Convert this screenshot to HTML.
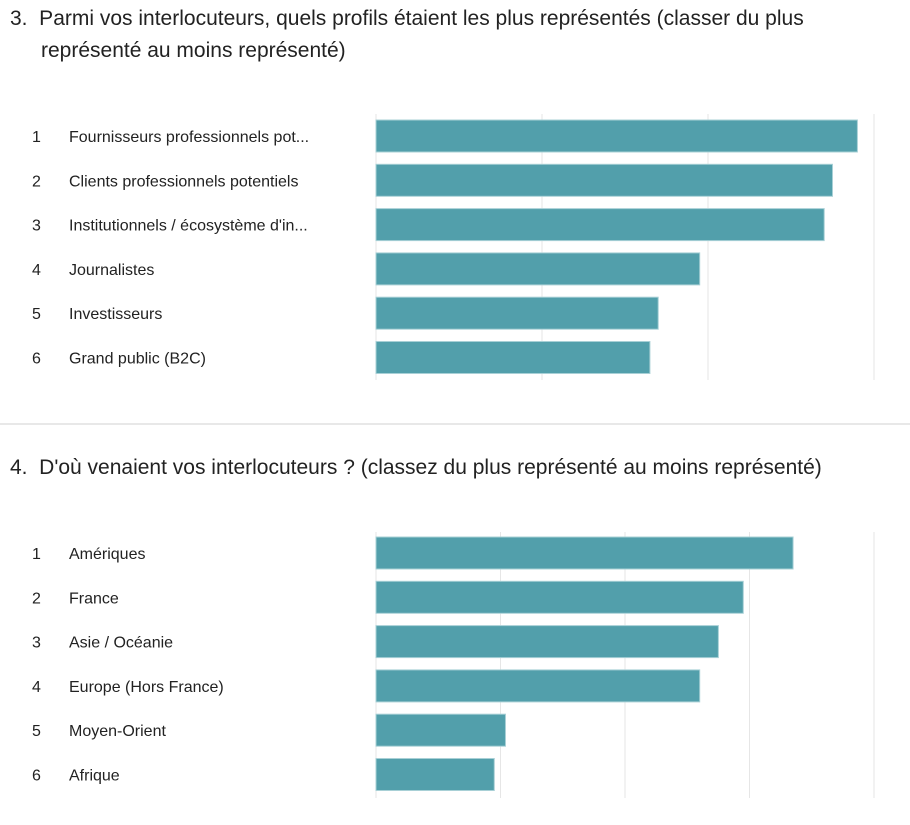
<!DOCTYPE html>
<html><head><meta charset="utf-8"><style>
body{margin:0;width:910px;height:825px;background:#fff;font-family:"Segoe UI","Liberation Sans","DejaVu Sans",sans-serif;color:#222;position:relative;overflow:hidden}
.title{position:absolute;left:10px;font-size:21px;line-height:32px;color:#222}
.sep{position:absolute;left:0;top:423px;width:910px;height:2px;background:#e8e8e8}
svg{position:absolute;left:0;top:0}
text{font-family:"Segoe UI","Liberation Sans","DejaVu Sans",sans-serif;font-size:16px;fill:#222}
</style></head><body>
<div class="title" style="top:3px">3.&nbsp; Parmi vos interlocuteurs, quels profils étaient les plus représentés (classer du plus<br><span style="padding-left:31px">représenté au moins représenté)</span></div>
<div class="sep"></div>
<div class="title" style="top:452px">4.&nbsp; D'où venaient vos interlocuteurs ? (classez du plus représenté au moins représenté)</div>
<svg id="chart" width="910" height="825"></svg>
<script>
const cats1=["Fournisseurs professionnels pot...","Clients professionnels potentiels","Institutionnels / écosystème d'in...","Journalistes","Investisseurs","Grand public (B2C)"];
const vals1=[2.90,2.75,2.70,1.95,1.70,1.65];
const ticks1=[0,1,2,3];
const cats2=["Amériques","France","Asie / Océanie","Europe (Hors France)","Moyen-Orient","Afrique"];
const vals2=[3.35,2.95,2.75,2.60,1.04,0.95];
const ticks2=[0,1,2,3,4];
const svg=document.getElementById('chart');
const NS='http://www.w3.org/2000/svg';
function mk(t,a){const e=document.createElementNS(NS,t);for(const k in a)e.setAttribute(k,a[k]);svg.appendChild(e);return e;}
function draw(cats,vals,ticks,x0,unit,top,gridTop,gridBot,prefix){
  const x=v=>x0+v*unit;
  ticks.forEach((t,i)=>{
    const l=mk('line',{x1:x(t),x2:x(t),y1:gridTop,y2:gridBot,stroke:'#e6e6e6','stroke-width':1});
    
    
  });
  cats.forEach((c,i)=>{
    const y=top+i*44.3;
    const r=mk('rect',{x:x(0),y:y,width:x(vals[i])-x(0),height:32,fill:'#529fab',stroke:'#a8d0d6','stroke-width':1});
    
    
    const n=mk('text',{x:32,y:y+22});n.textContent=String(i+1);
    
    
    const t=mk('text',{x:69,y:y+22});t.textContent=c;
    
    
  });
}
draw(cats1,vals1,ticks1,376,166,120,114,380,'q3');
draw(cats2,vals2,ticks2,376,124.5,537,532,798,'q4');
</script>
</body></html>
